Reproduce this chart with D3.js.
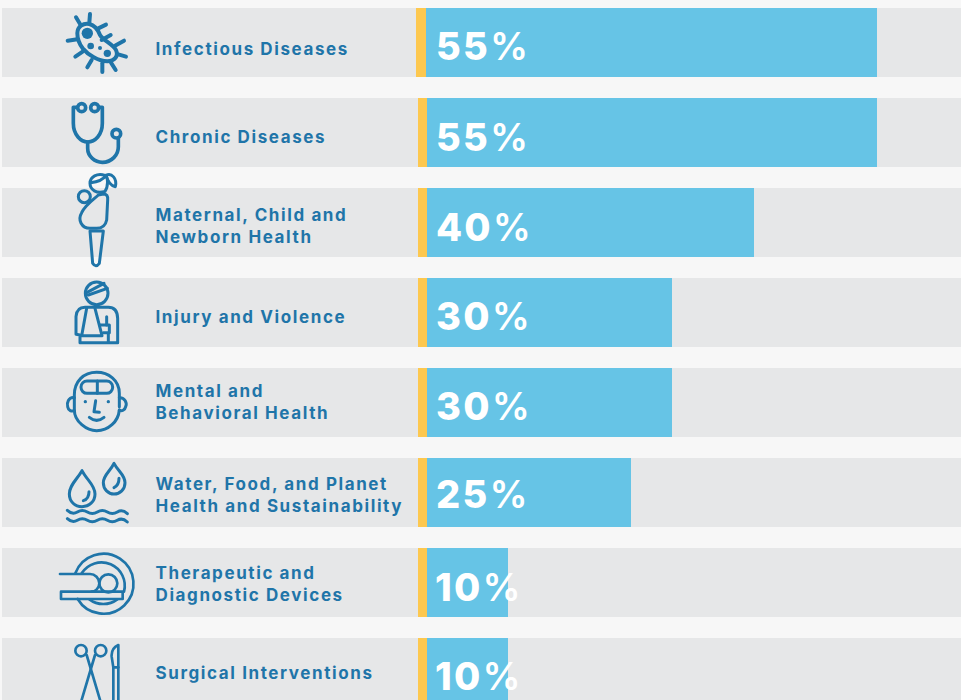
<!DOCTYPE html>
<html lang="en">
<head>
    <meta charset="UTF-8">
    <title>Research areas</title>
    <style>
        html, body { margin: 0; padding: 0; background: #f7f7f7; overflow: hidden; }
        svg { display: block; }
    </style>
</head>
<body>
<script src="https://d3js.org/d3.v7.min.js"></script>
<script>
    const categories = ["Infectious Diseases", "Chronic Diseases", "Maternal, Child and Newborn Health",
        "Injury and Violence", "Mental and Behavioral Health", "Water, Food, and Planet Health and Sustainability",
        "Therapeutic and Diagnostic Devices", "Surgical Interventions"];
    const values = [55, 55, 40, 30, 30, 25, 10, 10];
    const labelLines = [["Infectious Diseases"], ["Chronic Diseases"], ["Maternal, Child and", "Newborn Health"],
        ["Injury and Violence"], ["Mental and", "Behavioral Health"], ["Water, Food, and Planet", "Health and Sustainability"],
        ["Therapeutic and", "Diagnostic Devices"], ["Surgical Interventions"]];

    const width = 961;
    const height = 700;
    const blue = "#1f75a9";

    const svg = d3.select("body").append("svg")
        .attr("width", width)
        .attr("height", height);

    svg.append("rect").attr("width", width).attr("height", height).attr("fill", "#f7f7f7");

    // 10 -> 508, 55 -> 877
    const x = d3.scaleLinear().domain([0, 55]).range([426, 877]);
    const y = d3.scaleBand().domain(categories).range([8, 707]).paddingInner(21 / 90).paddingOuter(0);

    const rows = svg.selectAll("g.row")
        .data(categories)
        .join("g")
        .attr("class", "row")
        .attr("transform", d => `translate(0,${y(d)})`);

    rows.append("rect")
        .attr("x", 2)
        .attr("width", width - 2)
        .attr("height", y.bandwidth())
        .attr("fill", "#e6e7e8");

    rows.append("rect")
        .attr("x", x(0))
        .attr("width", (d, i) => x(values[i]) - x(0))
        .attr("height", y.bandwidth())
        .attr("fill", "#66c4e6");

    // gold tick at start of each bar, first row sits a bit further left
    rows.append("rect")
        .attr("x", (d, i) => i === 0 ? 416 : 418)
        .attr("width", (d, i) => i === 0 ? 10 : 9)
        .attr("height", y.bandwidth())
        .attr("fill", "#fdc84f");

    // labels - small per row nudges, the source isn't quite regular
    const labelNudge = [0.5, -1, -2, -1, -6, -3, -4, -5];
    rows.each(function (d, i) {
        const lines = labelLines[i];
        const t = d3.select(this).append("text")
            .attr("font-family", "Inter, sans-serif")
            .attr("font-weight", 700)
            .attr("font-size", 17)
            .attr("letter-spacing", 1.6)
            .attr("fill", blue);
        lines.forEach((line, j) => {
            t.append("tspan")
                .attr("x", 155.5)
                .attr("y", 40 + labelNudge[i] + (lines.length === 1 ? 6 : -5.5 + j * 22.6))
                .text(line);
        });
    });

    const valueNudge = [0, 1, 1, 0, 0, -2, 1, 0];
    const value = rows.append("text")
        .attr("x", (d, i) => i >= 6 ? 435 : 436)
        .attr("y", (d, i) => 52 + valueNudge[i])
        .attr("font-family", "Inter, sans-serif")
        .attr("font-weight", 800)
        .attr("font-size", 38)
        .attr("letter-spacing", 2.2)
        .attr("fill", "#fff")
        .text((d, i) => values[i]);
    value.append("tspan")
        .attr("font-weight", 600)
        .attr("font-size", 38)
        .text("%");

    const icons = svg.append("g")
        .attr("fill", "none")
        .attr("stroke", blue)
        .attr("stroke-linecap", "round")
        .attr("stroke-linejoin", "round");

    function icon(ox, oy, sw) {
        return icons.append("g")
            .attr("stroke-width", sw)
            .attr("transform", `translate(${ox},${oy}) scale(${1 / 3})`);
    }
    function paths(g, list) {
        list.forEach(d => g.append("path").attr("d", d));
    }
    function rings(g, list) {
        list.forEach(c => g.append("circle").attr("cx", c[0]).attr("cy", c[1]).attr("r", c[2]));
    }

    // bacterium
    const bug = icon(0, 0, 12);
    paths(bug, ["M270,42L268,68", "M228,52L242,75", "M318,74L295,85", "M332,105L305,120", "M372,122L345,137",
        "M378,170L355,163", "M347,210L333,188", "M307,216L307,190", "M262,202L275,180", "M226,170L248,155", "M203,122L232,118",
        "M232,100C232,80 250,68 268,72C285,76 295,92 300,105C310,122 335,130 348,150C356,168 345,183 322,184C295,184 265,165 248,145C238,132 232,118 232,100Z"]);
    [[262, 100, 17], [272, 138, 10], [300, 144, 6], [322, 160, 11]].forEach(c => {
        bug.append("circle").attr("cx", c[0]).attr("cy", c[1]).attr("r", c[2])
            .attr("fill", blue).attr("stroke", "none");
    });

    // stethoscope
    const scope = icon(0, 0, 11);
    paths(scope, ["M232,322L220,322V370C220,405 243,426 263,426C285,426 307,405 307,370V322L296,322",
        "M263,426V445C263,470 285,487 307,487C335,487 355,465 355,440V415"]);
    rings(scope, [[245, 323, 12], [284, 323, 12], [349, 401, 13]]);

    // mother and baby
    const mum = icon(40, 170, 9);
    paths(mum, ["M195,64C170,72 150,60 150,40C150,20 172,8 195,16C205,22 205,50 195,64",
        "M152,38C170,36 190,28 198,16",
        "M198,16C215,8 232,25 226,50C215,48 204,36 198,16",
        "M175,75L190,72Q205,72 203,90L200,150Q195,175 170,175L150,175C125,175 112,150 125,128C135,105 165,85 175,75Z",
        "M150,183L190,183L178,280Q167,295 158,280Z"]);
    rings(mum, [[133, 80, 18]]);

    // injured figure with sling
    const hurt = icon(40, 170, 9);
    paths(hurt, ["M140,368L192,340", "M145,375L202,355",
        "M120,495L108,493V440Q110,412 135,412H205Q232,412 233,445V518H120V497",
        "M140,415L125,497H186L165,415", "M180,465H208V488H190", "M200,440V465", "M205,490V515"]);
    rings(hurt, [[170, 370, 34]]);

    // head
    const head = icon(40, 360, 9);
    paths(head, ["M238,140V100C238,60 205,37 170,37C130,37 103,65 103,105V150C103,185 140,212 170,212C205,212 235,185 238,150",
        "M103,113C85,110 80,130 83,140C85,152 95,155 103,152",
        "M238,113C255,112 262,130 257,140C255,150 245,155 238,150",
        "M172,63V100", "M167,122L162,155L178,157", "M148,172Q170,190 192,172"]);
    head.append("rect").attr("x", 123).attr("y", 63).attr("width", 95).attr("height", 37).attr("rx", 18);
    [[136, 125], [205, 125]].forEach(c => {
        head.append("circle").attr("cx", c[0]).attr("cy", c[1]).attr("r", 5).attr("fill", blue).attr("stroke", "none");
    });

    // water drops
    const drops = icon(40, 360, 9);
    paths(drops, ["M126,332C110,360 88,375 88,402C88,425 105,440 126,440C147,440 165,425 165,402C165,375 140,360 126,332Z",
        "M147,395C147,408 142,418 130,422",
        "M222,310C210,335 190,345 190,368C190,388 205,402 222,402C240,402 255,388 255,368C255,345 235,335 222,310Z",
        "M237,355C237,368 233,378 222,383",
        "M82,451Q97,465 112,456T142,456T172,456T202,456T232,456T262,461",
        "M82,476Q97,490 112,481T142,481T172,481T202,481T232,481T262,486"]);

    // scanner
    const scan = icon(40, 540, 8);
    paths(scan, ["M106,100A90,90 0 1 1 113,177", "M125,100A70,70 0 0 1 252,155", "M232,178A70,70 0 0 1 148,178",
        "M60,102H150C165,102 178,115 178,130C178,145 165,155 155,155"]);
    scan.append("rect").attr("x", 63).attr("y", 155).attr("width", 185).attr("height", 22);
    rings(scan, [[205, 130, 27]]);

    // scissors and scalpel
    const tools = icon(40, 540, 8);
    paths(tools, ["M140,345L195,530", "M165,345L110,530",
        "M220,530V382H235V315Q213,325 215,350L220,382", "M235,382V530"]);
    rings(tools, [[123, 332, 17], [182, 332, 17]]);
</script>
</body>
</html>
